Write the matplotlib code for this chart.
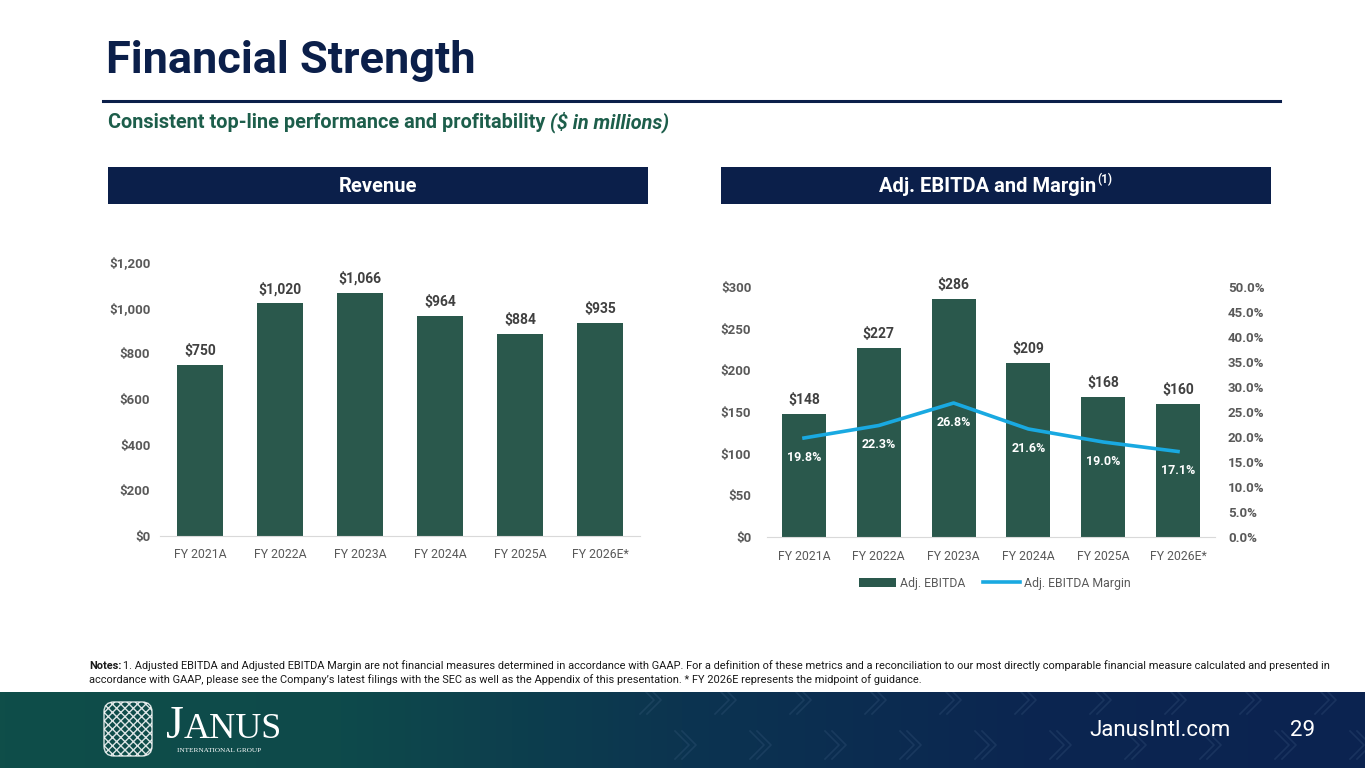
import matplotlib
matplotlib.use("Agg")
import matplotlib.pyplot as plt
import numpy as np
from matplotlib.patches import Rectangle, Patch, FancyBboxPatch
from matplotlib.lines import Line2D
from matplotlib.colors import LinearSegmentedColormap

# ---------------- data ----------------
years = ["FY 2021A", "FY 2022A", "FY 2023A", "FY 2024A", "FY 2025A", "FY 2026E*"]
revenue = [750, 1020, 1066, 964, 884, 935]
ebitda = [148, 227, 286, 209, 168, 160]
margin = [19.8, 22.3, 26.8, 21.6, 19.0, 17.1]
rev_ticks = [0, 200, 400, 600, 800, 1000, 1200]
ebitda_ticks = [0, 50, 100, 150, 200, 250, 300]
margin_ticks = [0, 5, 10, 15, 20, 25, 30, 35, 40, 45, 50]

# ---------------- style ----------------
NAVY = "#0B1F4A"
GREEN_TXT = "#1D5E4B"
BAR = "#2A584C"
LINE = "#19A9E1"
GRAY = "#595959"
LBL = "#404040"
FONT = "Roboto"
plt.rcParams["font.family"] = [FONT, "DejaVu Sans"]

W, H = 1365, 768
fig = plt.figure(figsize=(W / 100, H / 100), dpi=100)
fig.patch.set_facecolor("white")


def fx(x):
    return x / W


def fy(y):
    return 1 - y / H


def rect(x0, y0, x1, y1):
    return [fx(x0), fy(y1), (x1 - x0) / W, (y1 - y0) / H]


renderer = fig.canvas.get_renderer()

# ---------------- header ----------------
fig.text(fx(106), fy(61), "Financial Strength", fontsize=32.5, fontweight="bold",
         color=NAVY, va="center", ha="left")
fig.add_artist(Line2D([fx(103), fx(1280)], [fy(100.5), fy(100.5)], color=NAVY, lw=2.2))

t1 = fig.text(fx(108), fy(128), "Consistent top-line performance and profitability ",
              fontsize=14.3, fontweight="bold", color=GREEN_TXT, va="baseline", ha="left")
bb = t1.get_window_extent(renderer)
fig.text(bb.x1 / W, fy(128), "($ in millions)", fontsize=14.3, fontweight="bold",
         fontstyle="italic", color=GREEN_TXT, va="baseline", ha="left")

for (x0, x1) in [(108, 648), (721, 1271)]:
    fig.add_artist(Rectangle((fx(x0), fy(204)), (x1 - x0) / W, 37 / H,
                             transform=fig.transFigure, facecolor=NAVY, edgecolor="none"))
fig.text(fx(378), fy(191.5), "Revenue", fontsize=14.5, fontweight="bold",
         color="white", ha="center", va="baseline")
h2 = fig.text(0, fy(191.5), "Adj. EBITDA and Margin", fontsize=14.5, fontweight="bold",
              color="white", ha="left", va="baseline")
h3 = fig.text(0, fy(183), "(1)", fontsize=8.5, fontweight="bold",
              color="white", ha="left", va="baseline")
w2 = h2.get_window_extent(renderer).width
w3 = h3.get_window_extent(renderer).width
start = 996 - (w2 + w3 + 1) / 2
h2.set_x(fx(start))
h3.set_x(fx(start + w2 + 1))

# ---------------- revenue chart ----------------
ax1 = fig.add_axes(rect(160, 262, 640, 536))
x = np.arange(len(years))
ax1.bar(x, revenue, width=0.58, color=BAR, zorder=2)
ax1.set_xlim(-0.5, len(years) - 0.5)
ax1.set_ylim(0, 1200)
ax1.set_yticks(rev_ticks)
ax1.set_yticklabels([f"${v:,}" for v in rev_ticks], fontsize=9.5, fontweight="bold", color=GRAY)
ax1.set_xticks(x)
ax1.set_xticklabels(years, fontsize=8.8, color=GRAY)
for s in ["top", "right", "left"]:
    ax1.spines[s].set_visible(False)
ax1.spines["bottom"].set_color("#D9D9D9")
ax1.tick_params(length=0, axis="both")
ax1.tick_params(axis="x", pad=9)
ax1.tick_params(axis="y", pad=7)
for xi, v in zip(x, revenue):
    ax1.annotate(f"${v:,}", (xi, v), xytext=(0, 5), textcoords="offset points",
                 ha="center", va="bottom", fontsize=10, fontweight="bold", color=LBL)

# ---------------- EBITDA chart ----------------
ax2 = fig.add_axes(rect(766.6, 287, 1215.4, 537))
ax2.bar(x, ebitda, width=0.59, color=BAR, zorder=2, label="Adj. EBITDA")
ax2.set_xlim(-0.5, len(years) - 0.5)
ax2.set_ylim(0, 300)
ax2.set_yticks(ebitda_ticks)
ax2.set_yticklabels([f"${v:,}" for v in ebitda_ticks], fontsize=9.5, fontweight="bold", color=GRAY)
ax2.set_xticks(x)
ax2.set_xticklabels(years, fontsize=8.8, color=GRAY)
for s in ["top", "right", "left"]:
    ax2.spines[s].set_visible(False)
ax2.spines["bottom"].set_color("#D9D9D9")
ax2.tick_params(length=0, axis="both")
ax2.tick_params(axis="x", pad=9)
ax2.tick_params(axis="y", pad=11)
for xi, v in zip(x, ebitda):
    ax2.annotate(f"${v:,}", (xi, v), xytext=(0, 5), textcoords="offset points",
                 ha="center", va="bottom", fontsize=10, fontweight="bold", color=LBL)

ax3 = ax2.twinx()
ax3.plot(x, margin, color=LINE, lw=2.6, zorder=3, label="Adj. EBITDA Margin")
ax3.set_ylim(0, 50)
ax3.set_yticks(margin_ticks)
ax3.set_yticklabels([f"{v:.1f}%" for v in margin_ticks], fontsize=9.5, fontweight="bold", color=GRAY)
for s in ["top", "right", "left", "bottom"]:
    ax3.spines[s].set_visible(False)
ax3.tick_params(length=0, pad=9)
for xi, m in zip(x, margin):
    ax3.annotate(f"{m:.1f}%", (xi, m), xytext=(0, -14), textcoords="offset points",
                 ha="center", va="center", fontsize=9, fontweight="bold", color="white")

handles = [Patch(facecolor=BAR, edgecolor="none", label="Adj. EBITDA"),
           Line2D([0], [0], color=LINE, lw=2.6, label="Adj. EBITDA Margin")]
fig.legend(handles=handles, loc="center", bbox_to_anchor=(fx(995), fy(583)), ncol=2,
           frameon=False, fontsize=8.8, labelcolor=GRAY, handlelength=3.0,
           handleheight=0.7, columnspacing=1.5, handletextpad=0.3)

# ---------------- notes ----------------
NFS = 7.9
n1 = fig.text(fx(89), fy(666), "Notes:", fontsize=NFS, fontweight="bold", color="#1a1a1a",
              va="center", ha="left")
nb = n1.get_window_extent(renderer)
fig.text(nb.x1 / W + 2 / W, fy(666),
         "1. Adjusted EBITDA and Adjusted EBITDA Margin are not financial measures determined in accordance "
         "with GAAP. For a definition of these metrics and a reconciliation to our most directly comparable "
         "financial measure calculated and presented in",
         fontsize=NFS, color="#1a1a1a", va="center", ha="left")
fig.text(fx(89), fy(680),
         "accordance with GAAP, please see the Company\u2019s latest filings with the SEC as well as the Appendix "
         "of this presentation. * FY 2026E represents the midpoint of guidance.",
         fontsize=NFS, color="#1a1a1a", va="center", ha="left")

# ---------------- footer ----------------
fax = fig.add_axes(rect(0, 692, W, H), zorder=-1)
cmap = LinearSegmentedColormap.from_list("ft", ["#0F4E49", "#0E4A4B", "#0C3450", "#0B2650", "#0B2350"])
grad = np.linspace(0, 1, 256).reshape(1, -1)
fax.imshow(grad, cmap=cmap, aspect="auto", extent=[0, W, H, 692])
# faint chevron decoration
for cx in range(640, 1400, 75):
    for cy, dx in [(700, 0), (745, 35)]:
        xs = [cx + dx, cx + dx + 14, cx + dx]
        ys = [cy - 14, cy, cy + 14]
        fax.plot(xs, ys, color="#5A7AA0", alpha=0.18, lw=1.2)
        fax.plot([v + 7 for v in xs], ys, color="#5A7AA0", alpha=0.18, lw=1.2)
# simple emblem placeholder (textured mark)
emb = FancyBboxPatch((104, 702), 48, 54, boxstyle="round,pad=0,rounding_size=10",
                     facecolor="none", edgecolor="white", hatch="xxxx", lw=1.0, alpha=0.85)
fax.add_patch(emb)
fax.set_xlim(0, W)
fax.set_ylim(H, 692)
fax.axis("off")

jt = fig.text(fx(166), fy(738), "J", fontsize=33, color="white", family="Liberation Serif",
              ha="left", va="baseline")
jb = jt.get_window_extent(renderer)
fig.text(jb.x1 / W, fy(738), "ANUS", fontsize=26, color="white", family="Liberation Serif",
         ha="left", va="baseline")
fig.text(fx(177), fy(750), "INTERNATIONAL GROUP", fontsize=5.2, color="white",
         family="Liberation Serif", ha="left", va="center")
fig.text(fx(1231), fy(730), "JanusIntl.com", fontsize=16, color="white", ha="right", va="center")
fig.text(fx(1290), fy(731), "29", fontsize=16, color="white", ha="left", va="center")

fig.savefig("out.png", dpi=100, facecolor="white")
